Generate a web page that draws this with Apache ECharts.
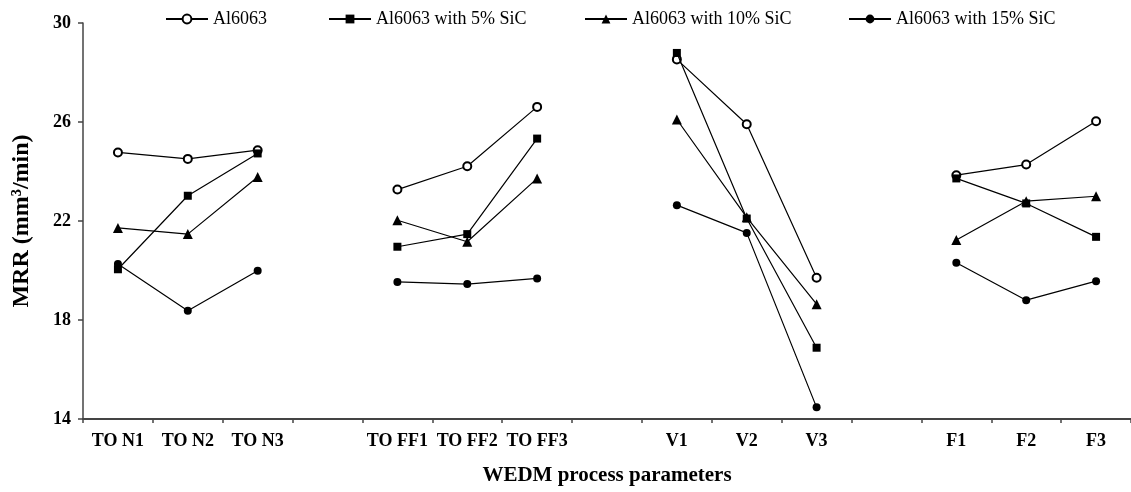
<!DOCTYPE html>
<html>
<head>
<meta charset="utf-8">
<script src="https://cdn.jsdelivr.net/npm/echarts@6/dist/echarts.min.js"></script>
<style>
html,body{margin:0;padding:0;background:#fff;}
#chart{width:1131px;height:492px;}
</style>
</head>
<body>
<div id="chart"></div>
<script>
const categories = ['TO N1','TO N2','TO N3','','TO FF1','TO FF2','TO FF3','','V1','V2','V3','','F1','F2','F3'];
const seriesNames = ['Al6063','Al6063 with 5% SiC','Al6063 with 10% SiC','Al6063 with 15% SiC'];
const al6063   = [24.77,24.51,24.86,null,23.27,24.21,26.61,null,28.53,25.91,19.71,null,23.85,24.28,26.03];
const sic5     = [20.05,23.02,24.73,null,20.96,21.47,25.33,null,28.79,22.10,16.88,null,23.72,22.71,21.36];
const sic10    = [21.72,21.47,23.78,null,22.03,21.16,23.72,null,26.10,22.15,18.64,null,21.23,22.80,23.00];
const sic15    = [20.26,18.37,19.99,null,19.54,19.45,19.68,null,22.64,21.52,14.47,null,20.31,18.80,19.57];
const yTicks = {min:14, max:30, interval:4};

const serif = '"Liberation Serif", "Times New Roman", serif';
const symbols = ['emptyCircle','rect','triangle','circle'];
const sizes = [8,8,10,8];
const values = [al6063, sic5, sic10, sic15];
const legendLefts = [165, 328, 584, 848];

const chart = echarts.init(document.getElementById('chart'));
chart.setOption({
  animation:false,
  backgroundColor:'#fff',
  legend: seriesNames.map((n,i)=>({
    data:[n], left:legendLefts[i], top:10, padding:0, itemWidth:42, itemHeight:11, itemGap:0,
    textStyle:{fontFamily:serif, fontSize:18, color:'#000'}
  })),
  grid:{left:83, top:23, width:1050, height:396},
  xAxis:{
    type:'category', data:categories, boundaryGap:true,
    name:'WEDM process parameters', nameLocation:'middle', nameGap:46,
    nameTextStyle:{fontFamily:serif, fontSize:21, fontWeight:'bold', color:'#000'},
    axisLine:{lineStyle:{color:'#444', width:2}},
    axisTick:{show:true, length:4, interval:0, lineStyle:{color:'#444', width:1.5}},
    axisLabel:{interval:0, margin:13, fontFamily:serif, fontSize:18, fontWeight:'bold', color:'#000'},
    splitLine:{show:false}
  },
  yAxis:{
    type:'value', min:yTicks.min, max:yTicks.max, interval:yTicks.interval,
    name:'MRR (mm³/min)', nameLocation:'middle', nameGap:49,
    nameTextStyle:{fontFamily:serif, fontSize:24, fontWeight:'bold', color:'#000'},
    axisLine:{show:true, lineStyle:{color:'#444', width:1.5}},
    axisTick:{show:true, length:5, lineStyle:{color:'#444', width:1.5}},
    axisLabel:{margin:12, fontFamily:serif, fontSize:18, fontWeight:'bold', color:'#000'},
    splitLine:{show:false}
  },
  series: seriesNames.map((n,i)=>({
    name:n, type:'line', data:values[i], connectNulls:false,
    symbol:symbols[i], symbolSize:sizes[i], showSymbol:true,
    itemStyle:{color:'#000', borderColor:'#000', borderWidth: i===0?1.2:0},
    lineStyle:{color:'#000', width:1.2},
    z: 2 + i
  }))
});
</script>
</body>
</html>
